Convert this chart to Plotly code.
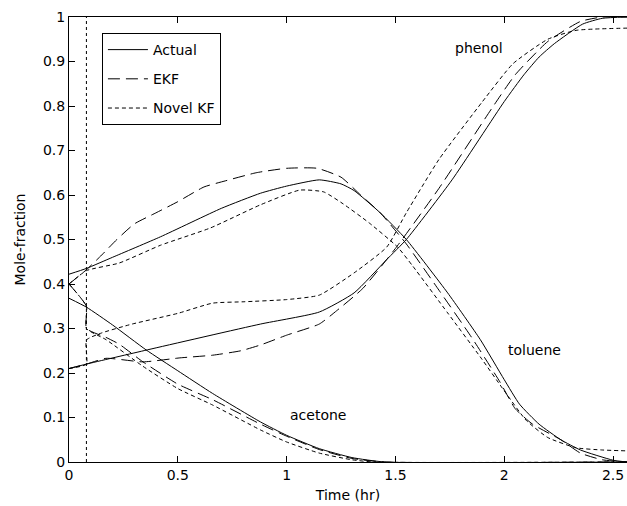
import plotly.graph_objects as go

# ---------------- data ----------------
start_time = 0.08  # vertical dotted marker (hr)

# Toluene
tol_act_t = [0, 0.08, 0.2, 0.42, 0.70, 0.88, 1.0, 1.15, 1.25, 1.31, 1.43, 1.55, 1.74, 1.89, 2.0, 2.07, 2.16, 2.26, 2.35, 2.5, 2.564]
tol_act_y = [0.422, 0.435, 0.46, 0.506, 0.57, 0.604, 0.62, 0.634, 0.625, 0.61, 0.56, 0.50, 0.38, 0.275, 0.185, 0.13, 0.085, 0.05, 0.027, 0.004, 0.0]
tol_ekf_t = [0, 0.08, 0.15, 0.22, 0.30, 0.40, 0.5, 0.62, 0.72, 0.86, 1.0, 1.14, 1.25, 1.34, 1.43, 1.55, 1.70, 1.85, 1.98, 2.05, 2.13, 2.26, 2.35, 2.45, 2.564]
tol_ekf_y = [0.40, 0.432, 0.465, 0.50, 0.535, 0.56, 0.585, 0.618, 0.632, 0.65, 0.66, 0.66, 0.64, 0.60, 0.56, 0.49, 0.386, 0.28, 0.18, 0.12, 0.085, 0.05, 0.02, 0.005, 0.0]
tol_nkf_t = [0, 0.08, 0.23, 0.42, 0.65, 0.88, 1.06, 1.17, 1.26, 1.38, 1.51, 1.58, 1.74, 1.89, 2.0, 2.1, 2.2, 2.33, 2.45, 2.564]
tol_nkf_y = [0.40, 0.43, 0.447, 0.487, 0.526, 0.578, 0.611, 0.607, 0.58, 0.537, 0.483, 0.44, 0.335, 0.236, 0.16, 0.094, 0.055, 0.032, 0.027, 0.025]

# Phenol
phe_act_t = [0, 0.08, 0.36, 0.88, 1.15, 1.31, 1.46, 1.55, 1.76, 2.0, 2.09, 2.16, 2.23, 2.36, 2.45, 2.564]
phe_act_y = [0.21, 0.22, 0.252, 0.31, 0.337, 0.38, 0.455, 0.50, 0.634, 0.81, 0.87, 0.91, 0.94, 0.984, 0.997, 1.0]
phe_ekf_t = [0, 0.08, 0.17, 0.34, 0.51, 0.66, 0.79, 0.88, 1.0, 1.15, 1.23, 1.35, 1.5, 1.7, 1.95, 2.05, 2.2, 2.35, 2.45, 2.564]
phe_ekf_y = [0.21, 0.22, 0.233, 0.225, 0.234, 0.24, 0.25, 0.263, 0.285, 0.31, 0.34, 0.39, 0.48, 0.615, 0.8, 0.87, 0.945, 0.99, 1.0, 1.0]
phe_nkf_t = [0, 0.08, 0.0801, 0.15, 0.29, 0.5, 0.66, 0.8, 1.0, 1.15, 1.31, 1.46, 1.55, 1.70, 1.9, 2.04, 2.2, 2.33, 2.564]
phe_nkf_y = [0.21, 0.22, 0.274, 0.29, 0.31, 0.334, 0.357, 0.36, 0.365, 0.375, 0.425, 0.483, 0.56, 0.68, 0.81, 0.895, 0.95, 0.97, 0.975]

# Acetone
ace_act_t = [0, 0.08, 0.2, 0.354, 0.5, 0.66, 0.88, 1.0, 1.15, 1.3, 1.45, 2.564]
ace_act_y = [0.368, 0.348, 0.308, 0.252, 0.205, 0.154, 0.09, 0.06, 0.03, 0.01, 0.0, 0.0]
ace_ekf_t = [0, 0.08, 0.0801, 0.17, 0.23, 0.34, 0.5, 0.66, 0.88, 1.0, 1.15, 1.3, 1.45, 2.564]
ace_ekf_y = [0.40, 0.35, 0.30, 0.28, 0.265, 0.225, 0.175, 0.14, 0.085, 0.058, 0.028, 0.008, 0.0, 0.0]
ace_nkf_t = [0, 0.08, 0.0801, 0.17, 0.34, 0.5, 0.66, 0.88, 1.0, 1.15, 1.3, 1.4, 2.564]
ace_nkf_y = [0.40, 0.35, 0.30, 0.275, 0.215, 0.165, 0.128, 0.072, 0.045, 0.02, 0.005, 0.0, 0.0]

labels = ["phenol", "toluene", "acetone"]
label_x = [1.884, 2.14, 1.145]
label_y = [0.93, 0.252, 0.105]

x_ticks = [0, 0.5, 1, 1.5, 2, 2.5]
y_ticks = [0, 0.1, 0.2, 0.3, 0.4, 0.5, 0.6, 0.7, 0.8, 0.9, 1]

FONT = "DejaVu Sans"
styles = {
    "Actual": dict(color="black", width=1, dash="solid", shape="spline", smoothing=0.5),
    "EKF": dict(color="black", width=1, dash="12px,6px", shape="spline", smoothing=0.5),
    "Novel KF": dict(color="black", width=1, dash="4px,3px", shape="spline", smoothing=0.5),
}

series = [
    ("Actual", tol_act_t, tol_act_y),
    ("EKF", tol_ekf_t, tol_ekf_y),
    ("Novel KF", tol_nkf_t, tol_nkf_y),
    ("Actual", phe_act_t, phe_act_y),
    ("EKF", phe_ekf_t, phe_ekf_y),
    ("Novel KF", phe_nkf_t, phe_nkf_y),
    ("Actual", ace_act_t, ace_act_y),
    ("EKF", ace_ekf_t, ace_ekf_y),
    ("Novel KF", ace_nkf_t, ace_nkf_y),
]

fig = go.Figure()
shown = set()
for name, t, y in series:
    fig.add_trace(go.Scatter(
        x=t, y=y, mode="lines", name=name, legendgroup=name,
        showlegend=name not in shown, line=styles[name], hoverinfo="skip",
    ))
    shown.add(name)

# vertical start marker
fig.add_trace(go.Scatter(
    x=[start_time, start_time], y=[0, 1], mode="lines", showlegend=False,
    line=dict(color="black", width=1, dash="3px,3px"), hoverinfo="skip",
))

for txt, lx, ly in zip(labels, label_x, label_y):
    fig.add_annotation(x=lx, y=ly, text=txt, showarrow=False,
                       font=dict(family=FONT, size=14, color="black"))

fig.update_layout(
    width=627, height=506, autosize=False,
    margin=dict(l=69, r=0, t=17, b=44),
    paper_bgcolor="white", plot_bgcolor="white",
    font=dict(family=FONT, size=14, color="black"),
    legend=dict(
        x=0.059, y=0.964, xanchor="left", yanchor="top",
        bordercolor="black", borderwidth=1, bgcolor="white",
        font=dict(family=FONT, size=14), tracegroupgap=8,
        itemwidth=40,
    ),
)
fig.update_xaxes(
    range=[0, 2.564], tickvals=x_ticks, ticktext=[f"{v:g}" for v in x_ticks],
    ticks="inside", ticklen=6, tickcolor="black",
    showline=True, linecolor="black", linewidth=1, mirror="ticks",
    showgrid=False, zeroline=False,
    title=dict(text="Time (hr)", font=dict(family=FONT, size=14), standoff=8),
)
fig.update_yaxes(
    range=[0, 1], tickvals=y_ticks, ticktext=[f"{v:g}" for v in y_ticks],
    ticks="inside", ticklen=6, tickcolor="black",
    showline=True, linecolor="black", linewidth=1,
    showgrid=False, zeroline=False,
    title=dict(text="Mole-fraction", font=dict(family=FONT, size=14), standoff=14),
)

fig.write_html("out.html")
